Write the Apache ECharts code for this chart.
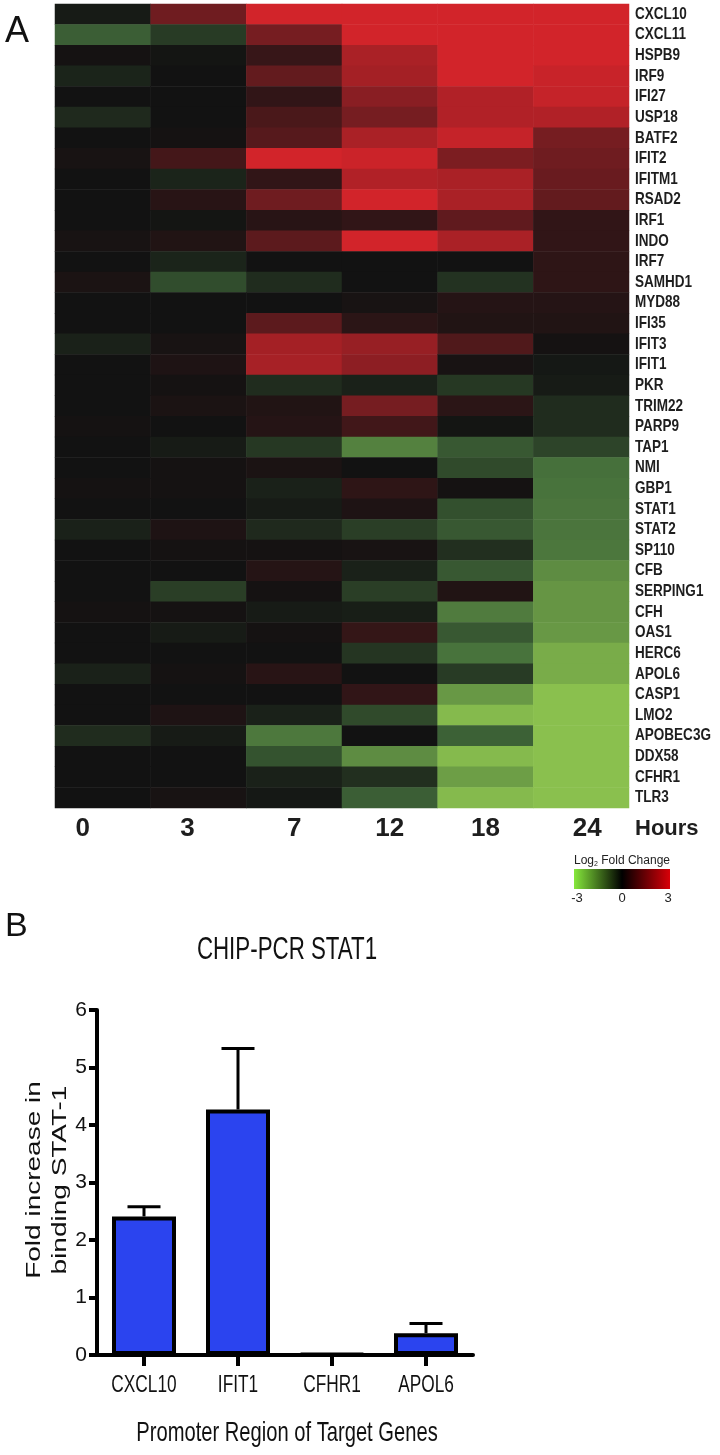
<!DOCTYPE html>
<html><head><meta charset="utf-8">
<script src="https://cdn.jsdelivr.net/npm/echarts@6/dist/echarts.min.js"></script>
<style>html,body{margin:0;padding:0;background:#fff}#c{width:720px;height:1455px}</style>
</head><body><div id="c"></div>
<script>
// ---------- Panel A data ----------
const genes = ['CXCL10','CXCL11','HSPB9','IRF9','IFI27','USP18','BATF2','IFIT2','IFITM1','RSAD2',
  'IRF1','INDO','IRF7','SAMHD1','MYD88','IFI35','IFIT3','IFIT1','PKR','TRIM22',
  'PARP9','TAP1','NMI','GBP1','STAT1','STAT2','SP110','CFB','SERPING1','CFH',
  'OAS1','HERC6','APOL6','CASP1','LMO2','APOBEC3G','DDX58','CFHR1','TLR3'];
const hours = ['0','3','7','12','18','24'];
const h0  = [-0.15,-1.3,0.05,-0.3,0,-0.4,0,0.1,0,0,0,0.1,0,0.15,0,0,-0.25,0,0,0,0.05,0,0,0.05,0,-0.25,0,0,0,0.05,0,0,-0.25,0,0,-0.45,0,0,0];
const h3  = [1.5,-0.7,-0.05,0,0,0,0.05,0.8,-0.3,0.35,-0.05,0.25,-0.3,-1.0,0,0,0.1,0.2,0.05,0.15,0,-0.15,0.05,0.05,0,0.2,0.05,0,-0.75,0.05,-0.15,0,0.05,0,0.2,-0.15,0,0,0.1];
const h7  = [3,1.6,0.6,1.3,0.5,0.9,1.1,3,0.5,1.5,0.35,1.2,0,-0.45,0,1.2,2.3,2.35,-0.45,0.25,0.3,-0.65,0.15,-0.25,-0.15,-0.4,0.05,0.3,0.05,-0.15,0.05,0,0.35,0,-0.25,-1.75,-1.1,-0.25,-0.1];
const h12 = [3,3,2.4,2.3,1.9,1.6,2.4,2.9,2.5,3,0.5,3,0,0,0.1,0.4,2.1,1.95,-0.25,1.6,0.75,-1.9,0,0.45,0.2,-0.75,0.1,-0.25,-0.75,-0.2,0.55,-0.6,0,0.5,-0.95,0,-2.1,-0.5,-1.3];
const h18 = [3,3,3,3,2.5,2.5,2.8,1.7,2.4,2.4,1.25,2.4,0,-0.55,0.3,0.25,1.0,0.1,-0.65,0.4,-0.05,-1.2,-0.95,0.05,-1.05,-1.2,-0.5,-1.2,0.25,-1.8,-1.2,-1.65,-0.7,-2.3,-2.9,-1.35,-2.9,-2.4,-2.9];
const h24 = [3,3,3,2.85,2.8,2.5,1.6,1.5,1.4,1.3,0.5,0.5,0.45,0.45,0.3,0.25,0.05,-0.1,-0.15,-0.45,-0.45,-0.85,-1.6,-1.65,-1.7,-1.7,-1.72,-2.1,-2.25,-2.25,-2.3,-2.65,-2.65,-3,-3,-3,-3,-3,-3];
const legendTicks = ['-3','0','3'];

// ---------- Panel B data ----------
const targets = ['CXCL10','IFIT1','CFHR1','APOL6'];
const foldIncrease = [2.41, 4.27, 0.02, 0.38];
const foldSEM = [0.17, 1.06, 0, 0.17];

const columns = [h0, h3, h7, h12, h18, h24];
const heatData = [];
columns.forEach((col, ci) => col.forEach((v, ri) => heatData.push([ci, ri, v])));

const SANS = "'Liberation Sans', Arial, sans-serif";
const SQ = 0.72; // horizontal squeeze of panel B lettering

const chart = echarts.init(document.getElementById('c'), null, {renderer: 'canvas'});
const fixedGraphics = [
  {type: 'text', left: 5, top: 14, style: {text: 'A', fontSize: 36, fontFamily: SANS, fill: '#111'}},
  {type: 'text', x: 635, y: 829, style: {text: 'Hours', fontSize: 22, fontWeight: 'bold', fontFamily: SANS, fill: '#1e1e1e', verticalAlign: 'middle'}},
  {type: 'text', x: 622, y: 861, style: {text: 'Log{s|2} Fold Change', fontSize: 12, fontFamily: SANS, fill: '#222', align: 'center', verticalAlign: 'middle',
    rich: {s: {fontSize: 7, verticalAlign: 'bottom', padding: [6, 0, 0, 0], fill: '#222'}}}},
  {type: 'rect', shape: {x: 574, y: 869, width: 96, height: 20},
    style: {fill: new echarts.graphic.LinearGradient(0, 0, 1, 0, [
      {offset: 0, color: '#86e83c'}, {offset: 0.5, color: '#000000'}, {offset: 1, color: '#d80008'}])}},
  {type: 'text', x: 577, y: 898, style: {text: legendTicks[0], fontSize: 13, fontFamily: SANS, fill: '#222', align: 'center', verticalAlign: 'middle'}},
  {type: 'text', x: 622, y: 898, style: {text: legendTicks[1], fontSize: 13, fontFamily: SANS, fill: '#222', align: 'center', verticalAlign: 'middle'}},
  {type: 'text', x: 668, y: 898, style: {text: legendTicks[2], fontSize: 13, fontFamily: SANS, fill: '#222', align: 'center', verticalAlign: 'middle'}},
  {type: 'text', x: 5, y: 927, style: {text: 'B', fontSize: 34, fontFamily: SANS, fill: '#111', verticalAlign: 'middle'}},
  {type: 'text', x: 287, y: 950, scaleX: SQ, style: {text: 'CHIP-PCR STAT1', fontSize: 31, fontFamily: SANS, fill: '#111', align: 'center', verticalAlign: 'middle'}},
  {type: 'text', x: 47, y: 1180, rotation: Math.PI / 2, scaleY: SQ,
    style: {text: 'Fold increase in\nbinding STAT-1', fontSize: 28, lineHeight: 36, fontFamily: SANS, fill: '#111', align: 'center', verticalAlign: 'middle'}},
  {type: 'text', x: 287, y: 1433, scaleX: SQ, style: {text: 'Promoter Region of Target Genes', fontSize: 28, fontFamily: SANS, fill: '#111', align: 'center', verticalAlign: 'middle'}}
];

chart.setOption({
  backgroundColor: '#fff',
  animation: false,
  textStyle: {fontFamily: SANS},
  grid: [
    {left: 55, top: 4, width: 574, height: 804},
    {left: 97, top: 1010, width: 376, height: 345}
  ],
  xAxis: [
    {gridIndex: 0, type: 'category', data: hours, position: 'bottom',
      axisLine: {show: false}, axisTick: {show: false}, splitLine: {show: false},
      axisLabel: {margin: 8, color: '#1e1e1e',
        formatter: (v, i) => (i === 0 ? '{a|' : i === 1 ? '{b|' : i === 5 ? '{d|' : '{n|') + v + '}',
        rich: {
          a: {fontSize: 26, fontWeight: 'bold', fontFamily: SANS, color: '#1e1e1e', padding: [0, 40, 0, 0]},
          b: {fontSize: 26, fontWeight: 'bold', fontFamily: SANS, color: '#1e1e1e', padding: [0, 22, 0, 0]},
          d: {fontSize: 26, fontWeight: 'bold', fontFamily: SANS, color: '#1e1e1e', padding: [0, 0, 0, 12]},
          n: {fontSize: 26, fontWeight: 'bold', fontFamily: SANS, color: '#1e1e1e'}
        }}},
    {gridIndex: 1, type: 'category', data: targets,
      axisLine: {show: true, lineStyle: {color: '#000', width: 4}},
      axisTick: {show: true, alignWithLabel: true, length: 11, lineStyle: {color: '#000', width: 4}},
      splitLine: {show: false}, axisLabel: {show: false}}
  ],
  yAxis: [
    {gridIndex: 0, type: 'category', data: genes, inverse: true, position: 'right',
      axisLine: {show: false}, axisTick: {show: false}, splitLine: {show: false},
      axisLabel: {show: false}},
    {gridIndex: 1, type: 'value', min: 0, max: 6, interval: 1,
      axisLine: {show: true, lineStyle: {color: '#000', width: 4}},
      axisTick: {show: true, length: 8, lineStyle: {color: '#000', width: 4}},
      splitLine: {show: false},
      axisLabel: {fontSize: 21, color: '#111', margin: 10, fontFamily: SANS}}
  ],
  visualMap: {
    type: 'continuous', min: -3, max: 3, show: false, seriesIndex: 0,
    inRange: {color: ['#8ac04e', '#416a3a', '#121212', '#6f1c20', '#d2242a']}
  },
  series: [
    {type: 'heatmap', xAxisIndex: 0, yAxisIndex: 0, data: heatData,
      itemStyle: {borderWidth: 0}, emphasis: {disabled: true}},
    {type: 'bar', xAxisIndex: 1, yAxisIndex: 1, data: foldIncrease, barWidth: 64,
      itemStyle: {color: '#2b44ef', borderColor: '#000', borderWidth: 4}, z: 2},
    {type: 'custom', xAxisIndex: 1, yAxisIndex: 1, z: 3,
      data: foldIncrease.map((v, i) => [i, v, foldSEM[i]]),
      renderItem: (params, api) => {
        const err = api.value(2);
        if (!err) return {type: 'group', children: []};
        const base = api.coord([api.value(0), api.value(1)]);
        const top = api.coord([api.value(0), api.value(1) + err]);
        const st = {stroke: '#000', lineWidth: 3};
        return {type: 'group', children: [
          {type: 'line', shape: {x1: base[0], y1: base[1], x2: top[0], y2: top[1]}, style: st},
          {type: 'line', shape: {x1: top[0] - 16.5, y1: top[1], x2: top[0] + 16.5, y2: top[1]}, style: st}
        ]};
      }}
  ],
  graphic: fixedGraphics
});

// axis-driven labels (drawn via the axes' own pixel mapping, with condensed lettering)
const geneLabels = genes.map(g => ({
  type: 'text', x: 635, y: chart.convertToPixel({gridIndex: 0}, [hours[0], g])[1], scaleX: 0.82,
  style: {text: g, fontSize: 16.5, fontWeight: 'bold', fontFamily: SANS, fill: '#1e1e1e', verticalAlign: 'middle'}
}));
const targetLabels = targets.map(t => ({
  type: 'text', x: chart.convertToPixel({gridIndex: 1}, [t, 0])[0], y: 1385, scaleX: SQ,
  style: {text: t, fontSize: 24, fontFamily: SANS, fill: '#111', align: 'center', verticalAlign: 'middle'}
}));
chart.setOption({graphic: fixedGraphics.concat(geneLabels, targetLabels)});
</script>
</body></html>
